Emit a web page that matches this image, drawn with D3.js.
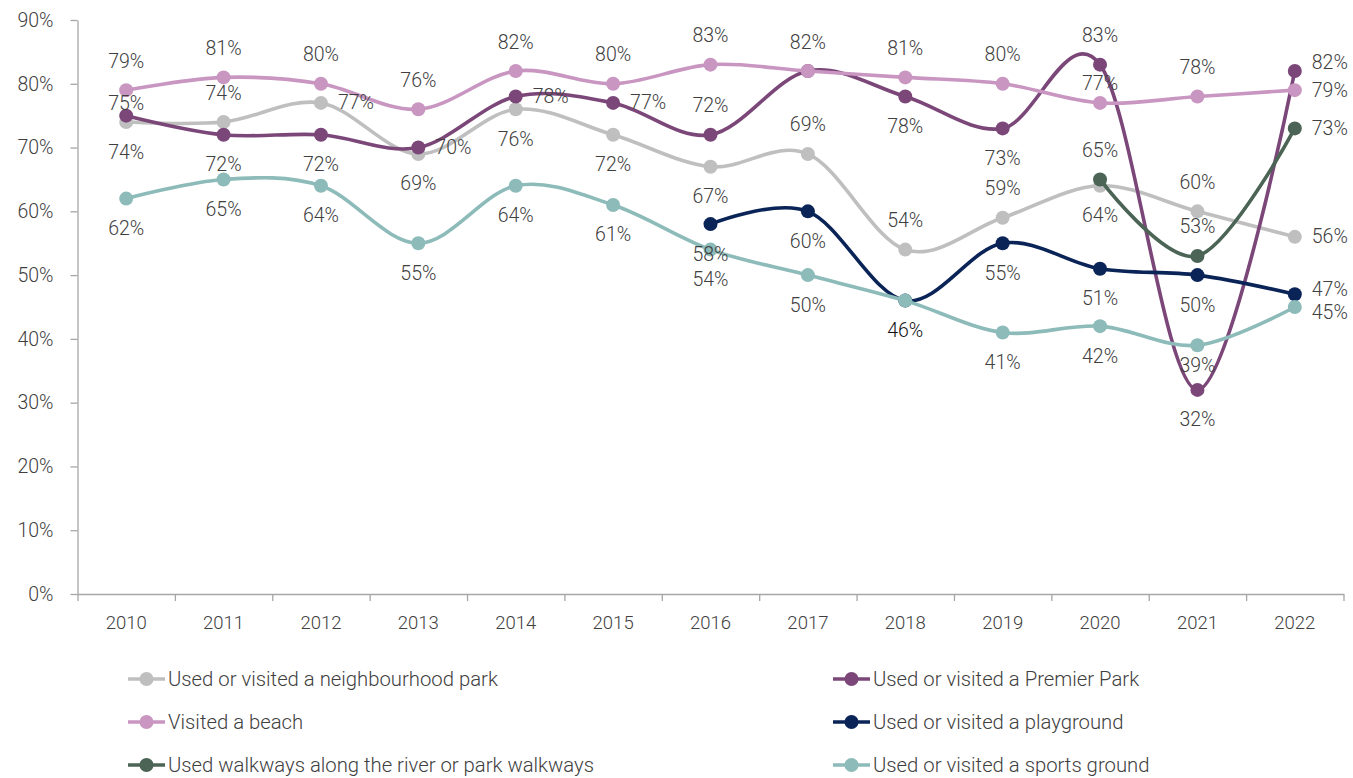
<!DOCTYPE html>
<html>
<head>
<meta charset="utf-8">
<script src="https://cdn.jsdelivr.net/npm/d3@7"></script>
<style>
  body { margin: 0; background: #fff; }
  svg text { font-family: Roboto, "Open Sans", sans-serif; font-weight: 300; fill: #404040; }
</style>
</head>
<body>
<svg id="chart" width="1353" height="778"></svg>
<script>
// Survey years and share of respondents (%) for each activity
const years = [2010, 2011, 2012, 2013, 2014, 2015, 2016, 2017, 2018, 2019, 2020, 2021, 2022];
const neighbourhoodPark = [74, 74, 77, 69, 76, 72, 67, 69, 54, 59, 64, 60, 56];
const premierPark       = [75, 72, 72, 70, 78, 77, 72, 82, 78, 73, 83, 32, 82];
const beach             = [79, 81, 80, 76, 82, 80, 83, 82, 81, 80, 77, 78, 79];
const playground        = [null, null, null, null, null, null, 58, 60, 46, 55, 51, 50, 47];
const walkways          = [null, null, null, null, null, null, null, null, null, null, 65, 53, 73];
const sportsGround      = [62, 65, 64, 55, 64, 61, 54, 50, 46, 41, 42, 39, 45];
const yTicks = [0, 10, 20, 30, 40, 50, 60, 70, 80, 90];

// Where each value label sits: a = above, b = below, r = right, - = not shown
const neighbourhoodLabels = ["b","a","r","b","b","b","b","a","a","a","b","a","r"];
const premierLabels       = ["a","b","b","r","r","r","a","-","b","b","a","b","r"];
const beachLabels         = ["a","a","a","a","a","a","a","a","a","a","a","a","r"];
const playgroundLabels    = ["-","-","-","-","-","-","b","b","b","b","b","b","r"];
const walkwaysLabels      = ["-","-","-","-","-","-","-","-","-","-","a","a","r"];
const sportsLabels        = ["b","b","b","b","b","b","b","b","-","b","b","b","r"];

const series = [
  { name: "Used or visited a neighbourhood park", values: neighbourhoodPark, labels: neighbourhoodLabels, color: "#BFBFBF" },
  { name: "Used or visited a Premier Park", values: premierPark, labels: premierLabels, color: "#7B4779" },
  { name: "Visited a beach", values: beach, labels: beachLabels, color: "#C896C0" },
  { name: "Used or visited a playground", values: playground, labels: playgroundLabels, color: "#0A2457" },
  { name: "Used walkways along the river or park walkways", values: walkways, labels: walkwaysLabels, color: "#4B6455" },
  { name: "Used or visited a sports ground", values: sportsGround, labels: sportsLabels, color: "#8DBBB9" }
];

// Small per-label nudges where labels would otherwise collide
const labelNudge = {
  "Used or visited a Premier Park|2010": 17,
  "Used or visited a Premier Park|2022": -9,
  "Visited a beach|2020": 10,
  "Used or visited a sports ground|2021": -10,
  "Used or visited a playground|2022": -5,
  "Used or visited a sports ground|2022": 5
};
// Labels drawn in a darker ink
const darkLabels = { "Used or visited a playground|2018": "#111" };

const svg = d3.select("#chart");
const plotLeft = 77.5, plotRight = 1343.5, plotTop = 20, plotBottom = 594;

const x = d3.scaleBand().domain(years).range([plotLeft, plotRight]);
const cx = yr => x(yr) + x.bandwidth() / 2;
const y = d3.scaleLinear().domain([0, 90]).range([plotBottom, plotTop]);

const axisColor = "#A6A6A6";

// Y axis
const yAxis = svg.append("g")
  .attr("transform", `translate(${plotLeft},0)`)
  .call(d3.axisLeft(y).tickValues(yTicks).tickSize(7).tickSizeOuter(0).tickPadding(17).tickFormat(d => d + "%"));
yAxis.selectAll("path, line").attr("stroke", axisColor).attr("stroke-width", 1.3);
yAxis.selectAll("text").style("font-size", "19.5px");

// X axis: tick marks at category boundaries, labels centred in each band
const xEdges = d3.scaleLinear().domain([0, years.length]).range([plotLeft, plotRight]);
const xTicks = svg.append("g")
  .attr("transform", `translate(0,${plotBottom})`)
  .call(d3.axisBottom(xEdges).ticks(years.length).tickSize(7).tickSizeOuter(0).tickFormat(""));
xTicks.selectAll("path, line").attr("stroke", axisColor).attr("stroke-width", 1.3);

const xAxis = svg.append("g")
  .attr("transform", `translate(0,${plotBottom})`)
  .call(d3.axisBottom(x).tickSize(0).tickPadding(22));
xAxis.select("path").remove();
xAxis.selectAll("text").style("font-size", "18.5px");

// Smoothed lines
const line = d3.line()
  .defined(d => d.v != null)
  .x(d => cx(d.year))
  .y(d => y(d.v))
  .curve(d3.curveCardinal.tension(0));

const plot = svg.append("g");
series.forEach(s => {
  const pts = years.map((yr, i) => ({ year: yr, v: s.values[i] }));
  plot.append("path")
    .datum(pts)
    .attr("fill", "none")
    .attr("stroke", s.color)
    .attr("stroke-width", 3.6)
    .attr("d", line);
  plot.selectAll(null)
    .data(pts.filter(d => d.v != null))
    .join("circle")
    .attr("cx", d => cx(d.year))
    .attr("cy", d => y(d.v))
    .attr("r", 7)
    .attr("fill", s.color);
});

// Value labels
const labels = svg.append("g");
series.forEach(s => {
  years.forEach((yr, i) => {
    const v = s.values[i], pos = s.labels[i];
    if (v == null || pos === "-") return;
    const key = s.name + "|" + yr;
    const nudge = labelNudge[key] || 0;
    let lx = cx(yr), ly = y(v), anchor = "middle";
    if (pos === "a") ly -= 29;
    else if (pos === "b") ly += 30;
    else if (pos === "r") { lx += 17; anchor = "start"; }
    ly += nudge;
    labels.append("text")
      .attr("x", lx).attr("y", ly)
      .attr("text-anchor", anchor)
      .attr("dominant-baseline", "central")
      .style("font-size", "19.5px")
      .style("fill", darkLabels[key] || "#404040")
      .text(v + "%");
  });
});

// Legend: two columns, three rows
const legendCols = [128, 833];
const legendRows = [679, 722, 765];
const legend = svg.append("g");
series.forEach((s, i) => {
  const lx = legendCols[i % 2], ly = legendRows[Math.floor(i / 2)];
  const g = legend.append("g").attr("transform", `translate(${lx},${ly})`);
  g.append("line").attr("x1", 0).attr("x2", 37).attr("y1", 0).attr("y2", 0)
    .attr("stroke", s.color).attr("stroke-width", 3.6);
  g.append("circle").attr("cx", 18.5).attr("cy", 0).attr("r", 7).attr("fill", s.color);
  g.append("text").attr("x", 40).attr("y", 0)
    .attr("dominant-baseline", "central")
    .style("font-size", "20.3px")
    .text(s.name);
});
</script>
</body>
</html>
